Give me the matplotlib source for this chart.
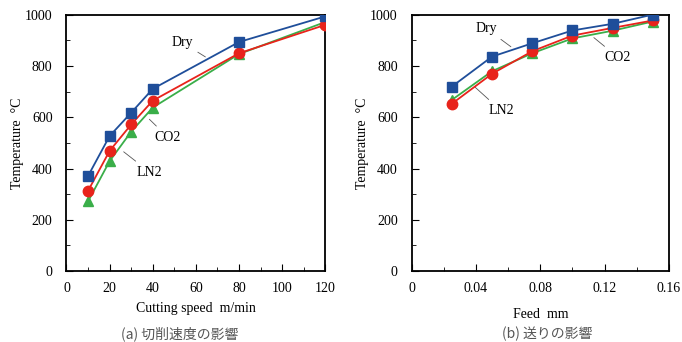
import matplotlib
matplotlib.use('Agg')
from matplotlib import pyplot as plt
from matplotlib.ticker import MultipleLocator

# (a) cutting speed
speed = [10, 20, 30, 40, 80, 120]
speed_dry = [371, 527, 618, 711, 894, 994]
speed_co2 = [313, 469, 572, 665, 850, 961]
speed_ln2 = [272, 429, 544, 638, 847, 972]

# (b) feed
feed = [0.025, 0.05, 0.075, 0.1, 0.125, 0.15]
feed_dry = [720, 837, 889, 939, 965, 1001]
feed_co2 = [653, 770, 858, 919, 949, 978]
feed_ln2 = [668, 780, 850, 908, 938, 974]

series_names = ['Dry', 'CO2', 'LN2']
captions = ['(a) 切削速度の影響', '(b) 送りの影響']
xlabels = ['Cutting speed  m/min', 'Feed  mm']
feed_ticks = [0, 0.04, 0.08, 0.12, 0.16]
feed_ticklabels = ['0', '0.04', '0.08', '0.12', '0.16']

plt.rcParams['font.family'] = ['Liberation Serif', 'Noto Sans CJK JP']

blue = '#1f4e9a'
red = '#e8231b'
green = '#3aae49'

fig = plt.figure(figsize=(6.82, 3.42), dpi=100)
ax1 = fig.add_axes([0.0975, 0.2076, 0.3795, 0.749])
ax2 = fig.add_axes([0.6037, 0.2076, 0.377, 0.749])


def draw(ax, x, dry, co2, ln2):
    ax.plot(x, ln2, '-', color=green, lw=1.3, marker='^', ms=7.5, zorder=3)
    ax.plot(x, co2, '-', color=red, lw=1.3, marker='o', ms=7.5, zorder=4)
    ax.plot(x, dry, '-', color=blue, lw=1.3, marker='s', ms=7.5, zorder=5)
    ax.set_ylim(0, 1000)
    ax.yaxis.set_major_locator(MultipleLocator(200))
    ax.yaxis.set_minor_locator(MultipleLocator(100))
    ax.tick_params(which='both', direction='in', top=False, right=False, labelsize=10)
    ax.tick_params(which='major', length=5)
    ax.tick_params(which='minor', length=3)
    ax.tick_params(axis='x', pad=8)
    ax.tick_params(axis='y', pad=10)
    for s in ax.spines.values():
        s.set_linewidth(1.3)
    ax.set_ylabel('Temperature  °C', fontsize=10, labelpad=1)


draw(ax1, speed, speed_dry, speed_co2, speed_ln2)
ax1.set_xlim(0, 120)
ax1.xaxis.set_major_locator(MultipleLocator(20))
ax1.xaxis.set_minor_locator(MultipleLocator(10))
ax1.set_xlabel(xlabels[0], fontsize=10, labelpad=5)

draw(ax2, feed, feed_dry, feed_co2, feed_ln2)
ax2.set_xticks(feed_ticks)
ax2.set_xticklabels(feed_ticklabels)
ax2.xaxis.set_minor_locator(MultipleLocator(0.02))
ax2.set_xlim(0, 0.16)
ax2.set_xlabel(xlabels[1], fontsize=10, labelpad=9)

# leader-line labels
arrow = dict(arrowstyle='-', color='#555555', lw=0.6)
ax1.annotate(series_names[0], xy=(65.5, 830), xytext=(53.5, 893), fontsize=10,
             ha='center', va='center', arrowprops=arrow)
ax1.annotate(series_names[1], xy=(37.5, 600), xytext=(47, 522), fontsize=10,
             ha='center', va='center', arrowprops=arrow)
ax1.annotate(series_names[2], xy=(25.5, 472), xytext=(38.6, 386), fontsize=10,
             ha='center', va='center', arrowprops=arrow)

ax2.annotate(series_names[0], xy=(0.0631, 869), xytext=(0.0463, 947), fontsize=10,
             ha='center', va='center', arrowprops=arrow)
ax2.annotate(series_names[1], xy=(0.112, 918), xytext=(0.1284, 834), fontsize=10,
             ha='center', va='center', arrowprops=arrow)
ax2.annotate(series_names[2], xy=(0.0381, 725), xytext=(0.0556, 626), fontsize=10,
             ha='center', va='center', arrowprops=arrow)

fig.text(0.264, 0.025, captions[0], fontsize=10, color='#555555', ha='center',
         va='center', family=['Noto Sans CJK JP', 'DejaVu Sans'])
fig.text(0.802, 0.025, captions[1], fontsize=10, color='#555555', ha='center',
         va='center', family=['Noto Sans CJK JP', 'DejaVu Sans'])

fig.savefig('out.png', dpi=100)
